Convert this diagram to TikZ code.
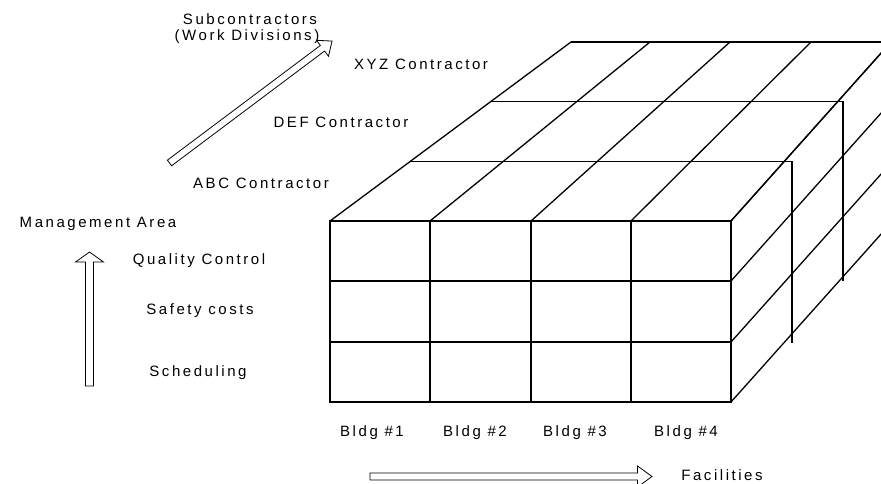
\documentclass[tikz,border=0pt]{standalone}
\usepackage{fontspec}
\newfontfamily\lblfont{Liberation Sans}[LetterSpace=17]
\begin{document}
\begin{tikzpicture}[x=1pt,y=1pt,
  grid/.style={line width=1.3pt, line join=miter, line cap=butt},
  lbl/.style={inner sep=0pt, anchor=base, font=\lblfont\fontsize{15}{17}\selectfont},
  blockarrow/.style={draw, fill=white, line width=0.8pt, line join=miter}]
\useasboundingbox (0,0) rectangle (881,484);
\clip (0,0) rectangle (881,484);

% ---- block of cells: front face (buildings x management areas)
\draw[grid] (330,82) rectangle (731,263);
\foreach \yy in {203,142} \draw[grid] (330,\yy) -- (731,\yy);
\foreach \xx in {430,531,631} \draw[grid] (\xx,82) -- (\xx,263);

% ---- top face (contractor layers), receding edges
\foreach \xf/\xb in {330/571,430/650,531/730,631/811,731/891}
  \draw[grid] (\xf,263) -- (\xb,442);
\draw[grid] (571,442) -- (891,442);

% ---- back outlines of the first two layers
\draw[grid] (410.3,322.5) -- (792,322.5) -- (792,141);
\draw[grid] (490.7,382.5) -- (843,382.5) -- (843,203);

% ---- right face, receding row edges
\foreach \yy in {263,203,142,82}
  \draw[grid] (731,\yy) -- (891,\yy+179);

% ---- axis arrows
% management area (upwards)
\draw[blockarrow] (85.5,98) -- (85.5,222) -- (75.5,222) -- (89.5,232)
  -- (103.5,222) -- (93.5,222) -- (93.5,98) -- cycle;
% facilities (to the right)
\draw[blockarrow] (370,4) -- (637.5,4) -- (637.5,-3) -- (652,7.5)
  -- (637.5,18) -- (637.5,11) -- (370,11) -- cycle;
% subcontractors (into the depth)
\begin{scope}[shift={(169.5,321)}, rotate=36.87]
  \draw[blockarrow] (0,-3.5) -- (191.2,-3.5) -- (191.2,-10) -- (203.2,0)
    -- (191.2,10) -- (191.2,3.5) -- (0,3.5) -- cycle;
\end{scope}

% ---- labels
\node[lbl] (sub1) at (250,459) {Subcontractors};
\node[lbl] (sub2) at (247,443) {(Work Divisions)};
\node[lbl] (xyz) at (421,414) {XYZ Contractor};
\node[lbl] (def) at (341,356) {DEF Contractor};
\node[lbl] (abc) at (261,295) {ABC Contractor};

\node[lbl] (mgmt) at (98,256) {Management Area};
\node[lbl] (qc) at (199,219) {Quality Control};
\node[lbl] (safety) at (200,169) {Safety costs};
\node[lbl] (sched) at (198,107) {Scheduling};

\node[lbl] (b1) at (372,47) {Bldg \#1};
\node[lbl] (b2) at (475,47) {Bldg \#2};
\node[lbl] (b3) at (575,47) {Bldg \#3};
\node[lbl] (b4) at (686,47) {Bldg \#4};
\node[lbl] (fac) at (722,3) {Facilities};
\end{tikzpicture}
\end{document}
